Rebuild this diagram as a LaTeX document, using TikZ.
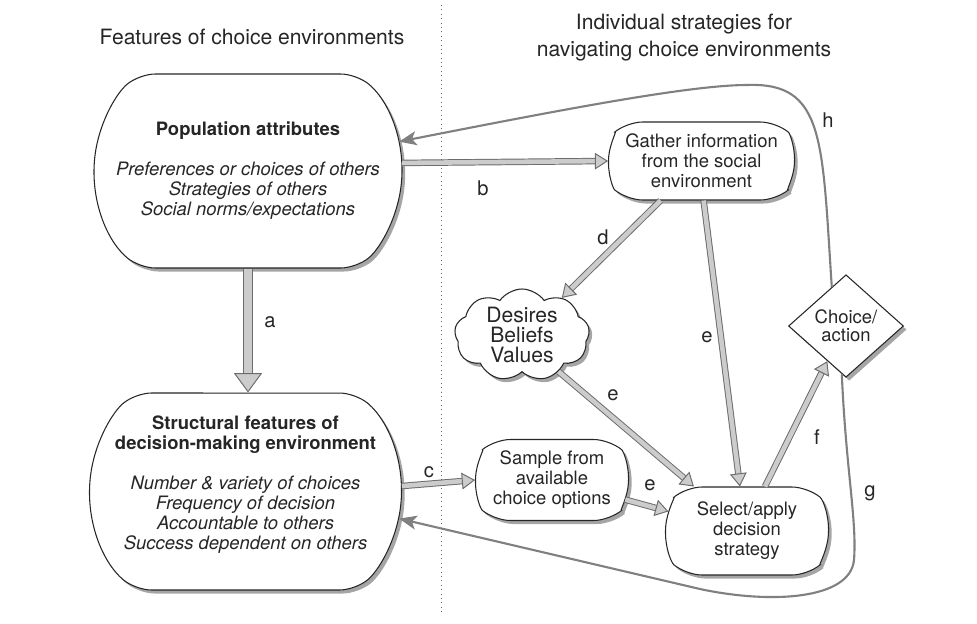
\documentclass[tikz,border=0pt]{standalone}
\usepackage{fontspec}
\setmainfont{TeX Gyre Heros}
\usetikzlibrary{arrows.meta,shapes.misc,shapes.geometric,shapes.symbols,shadows}

\begin{document}
\begin{tikzpicture}[x=0.02cm,y=-0.02cm,
  softshadow/.style={drop shadow={shadow xshift=1.8pt,shadow yshift=-2pt,opacity=0.5,fill=black!70}},
  box/.style={rounded rectangle,rounded rectangle arc length=100,rounded corners=9pt,draw=black!85,
    line width=0.6pt,fill=white,align=center,inner sep=2pt,text=black!85,
    font=\fontsize{10.5}{11.4}\selectfont,softshadow},
  flow/.style={draw=gray!85!black,line width=0.55pt,double=gray!40,double distance=2.6pt,
    -{Triangle[open,fill=gray!40,line width=0.55pt,length=7.5pt,width=9.5pt]}},
  bigflow/.style={flow,double distance=4.2pt,
    -{Triangle[open,fill=gray!40,line width=0.55pt,length=11pt,width=16pt]}},
  feedback/.style={draw=gray,line width=1.2pt,-{Stealth[length=10pt,width=8pt,inset=2.5pt]}},
  lbl/.style={font=\fontsize{11.5}{12}\selectfont,text=black!85,inner sep=0pt},
  head/.style={font=\fontsize{12}{15.4}\selectfont,text=black!85,align=center}
]
\useasboundingbox (0,0) rectangle (977,623);

\draw[dotted,black!60,line width=0.5pt] (441,5) -- (441,612);

\node[head] (leftHead) at (252,37) {Features of choice environments};
\node[head] (rightHead) at (684,38) {Individual strategies for\\navigating choice environments};

% left column
\node[box,minimum width=6.3cm,minimum height=3.88cm] (pop) at (248,171)
  {\textbf{Population attributes}\\[11.4pt]
   \textit{Preferences or choices of others}\\
   \textit{Strategies of others}\\
   \textit{Social norms/expectations}};
\node[box,minimum width=6.38cm,minimum height=3.94cm] (struct) at (245.5,491.5)
  {\textbf{Structural features of}\\
   \textbf{decision-making environment}\\[11.4pt]
   \textit{Number \& variety of choices}\\
   \textit{Frequency of decision}\\
   \textit{Accountable to others}\\
   \textit{Success dependent on others}\\[-1pt]};

% right column
\node[box,minimum width=3.86cm,minimum height=1.56cm] (gather) at (701.5,161)
  {Gather information\\from the social\\environment};
\node[box,minimum width=3.2cm,minimum height=1.62cm] (sample) at (552,480)
  {Sample from\\available\\choice options};
\node[box,minimum width=3.4cm,minimum height=1.76cm] (select) at (747,531)
  {Select/apply\\decision\\strategy};
\node[cloud,cloud puffs=9,cloud puff arc=110,cloud ignores aspect,draw=black!85,
  line width=0.6pt,fill=white,minimum width=2.7cm,minimum height=1.8cm,align=center,
  inner sep=0pt,text=black!85,font=\fontsize{12}{11.4}\selectfont,softshadow]
  (values) at (522,335) {Desires\\Beliefs\\Values};
\node[diamond,draw=black!85,line width=0.6pt,fill=white,
  minimum width=2.3cm,minimum height=2.05cm,inner sep=0pt,align=center,text=black!85,
  font=\fontsize{10.5}{10.4}\selectfont,softshadow]
  (choice) at (846,326) {Choice/\\action};

\draw[bigflow] (pop.south) -- (pop.south |- struct.north);
\node[lbl] (labA) at (270,322) {a};
\draw[flow] (pop.3.6) -- (gather.west);
\node[lbl] (labB) at (483,188) {b};
\draw[flow] (struct.2.5) -- (sample.west);
\node[lbl] (labC) at (429,472) {c};
\draw[flow] (gather.224) -- (values.43);
\node[lbl] (labD) at (603,237) {d};
\draw[flow] (gather.273) -- (select.99);
\node[lbl] (labE) at (707,337) {e};
\draw[flow] (values.-45) -- (select.140);
\node[lbl] (labEE) at (613,395) {e};
\draw[flow] (sample.-15) -- (select.166);
\node[lbl] (labEEE) at (650,485) {e};
\draw[flow] (select.68) -- (choice.242);
\node[lbl] (labF) at (817,437) {f};

\draw[feedback] (choice.110) .. controls (822,140) and (825,82) .. (747,85)
  .. controls (690,85) and (560,110) .. (pop.11);
\node[lbl] (labH) at (828,120) {h};
\draw[feedback] (choice.265) .. controls (846,470) and (857,520) .. (854,560)
  .. controls (850,600) and (770,604) .. (700,589) -- (struct.-10.6);
\node[lbl] (labG) at (870,493) {g};

\end{tikzpicture}
\end{document}
